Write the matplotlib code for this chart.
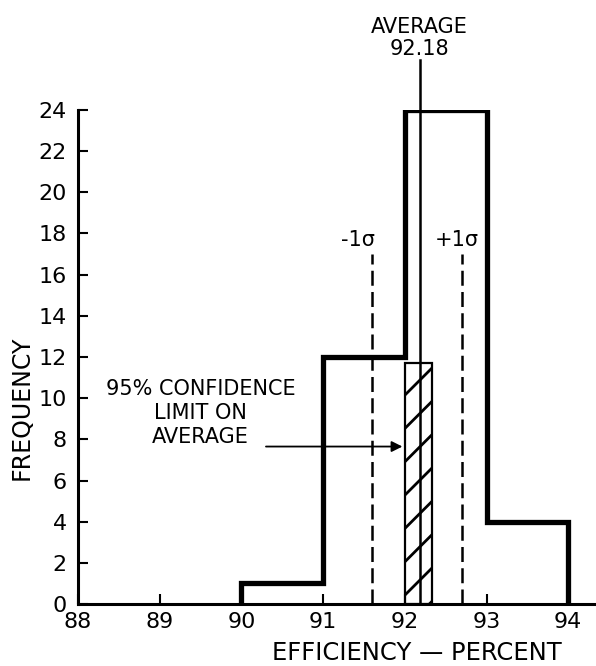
import matplotlib
matplotlib.use("Agg")
import matplotlib.pyplot as plt
from matplotlib.patches import Rectangle
import numpy as np

# ---- data ----
bin_edges = [90, 91, 92, 93, 94]
frequency = [1, 12, 24, 4]
average = 92.18
sigma_low = 91.6
sigma_high = 92.7
ci_low = 92.0
ci_high = 92.33
ci_top = 11.7
sigma_top = 17
x_ticks = [88, 89, 90, 91, 92, 93, 94]
y_ticks = [0, 2, 4, 6, 8, 10, 12, 14, 16, 18, 20, 22, 24]

plt.rcParams['font.family'] = ['DejaVu Sans']
plt.rcParams['hatch.linewidth'] = 2.0

fig = plt.figure(figsize=(5.96, 6.66), dpi=100)
ax = fig.add_axes([0.131, 0.093, 0.869, 0.742])

# histogram outline
ax.stairs(frequency, bin_edges, baseline=0, color='black', lw=3.8, zorder=4)

# confidence band (hatched)
ax.add_patch(Rectangle((ci_low, 0), ci_high - ci_low, ci_top, facecolor='none',
                       edgecolor='black', hatch='/', lw=1.6, zorder=3))

# average line
ax.plot([average, average], [0, 26.4], color='black', lw=1.8, clip_on=False, zorder=5)
ax.text(average, 26.45, "AVERAGE\n92.18", ha='center', va='bottom', fontsize=15,
        linespacing=1.15)

# sigma lines
for xs, lab, dx in [(sigma_low, "-1σ", -0.18), (sigma_high, "+1σ", -0.07)]:
    ax.plot([xs, xs], [0, sigma_top], color='black', lw=1.8,
            linestyle=(0, (6, 2.5)), zorder=2)
    ax.text(xs + dx, sigma_top + 0.2, lab, ha='center', va='bottom', fontsize=15)

# confidence annotation
ax.text(89.5, 9.3, "95% CONFIDENCE\nLIMIT ON\nAVERAGE", ha='center', va='center',
        fontsize=15, linespacing=1.25)
ax.annotate("", xy=(91.97, 7.65), xytext=(90.3, 7.65),
            arrowprops=dict(arrowstyle='-|>', color='black', lw=1.3,
                            mutation_scale=16, shrinkA=0, shrinkB=0))

ax.set_xlim(88, 94.34)
ax.set_ylim(0, 24)
ax.set_xticks(x_ticks)
ax.set_yticks(y_ticks)
ax.set_xticklabels([str(v) for v in x_ticks], fontsize=16)
ax.set_yticklabels([str(v) for v in y_ticks], fontsize=16)
ax.tick_params(axis='both', direction='in', length=7, width=1.5, pad=6)
ax.tick_params(axis='y', pad=8)

for s in ['top', 'right']:
    ax.spines[s].set_visible(False)
for s in ['left', 'bottom']:
    ax.spines[s].set_linewidth(2.2)

ax.set_xlabel("EFFICIENCY — PERCENT", fontsize=17.5)
ax.xaxis.set_label_coords(0.655, -0.075)
ax.set_ylabel("FREQUENCY", fontsize=17)
ax.yaxis.set_label_coords(-0.086, 0.397)

fig.savefig("out.png", dpi=100)
